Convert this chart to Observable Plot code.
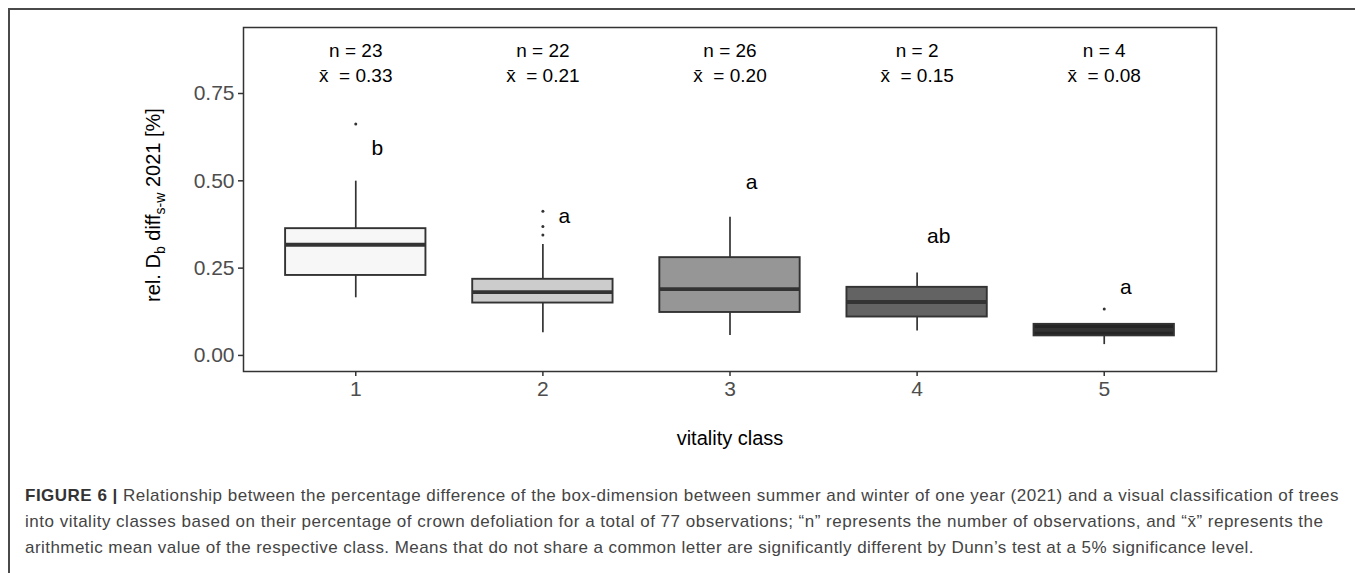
<!DOCTYPE html>
<html>
<head>
<meta charset="utf-8">
<script src="https://cdn.jsdelivr.net/npm/d3@7"></script>
<script src="https://cdn.jsdelivr.net/npm/@observablehq/plot@0.6"></script>
<style>
  html, body { margin: 0; padding: 0; background: #fff; }
  body { width: 1355px; height: 573px; position: relative; overflow: hidden; font-family: "Liberation Sans", Arial, sans-serif; }
  #frame { position: absolute; left: 8px; top: 8px; width: 1400px; height: 700px; border-top: 2px solid #4a4a4a; border-left: 2px solid #4a4a4a; }
  #chart { position: absolute; left: 0; top: 0; }
  #caption { position: absolute; left: 25px; top: 483px; font-size: 17px; line-height: 26px; color: #444; white-space: nowrap; }
  #caption b { color: #333; }
  [aria-label="y-axis tick label"] text, [aria-label="x-axis tick label"] text { fill: #4d4d4d; }
</style>
</head>
<body>
<div id="frame"></div>
<div id="chart"></div>
<div id="caption">
  <div class="ln" data-w="1314"><b>FIGURE 6 |</b> Relationship between the percentage difference of the box-dimension between summer and winter of one year (2021) and a visual classification of trees</div>
  <div class="ln" data-w="1299">into vitality classes based on their percentage of crown defoliation for a total of 77 observations; “n” represents the number of observations, and “x̄” represents the</div>
  <div class="ln" data-w="1229">arithmetic mean value of the respective class. Means that do not share a common letter are significantly different by Dunn’s test at a 5% significance level.</div>
</div>
<script>
// ---- data ----
const classes = [1, 2, 3, 4, 5];
const lowerWhisker = [0.165, 0.065, 0.057, 0.070, 0.031];
const q1 = [0.229, 0.150, 0.123, 0.110, 0.056];
const median = [0.317, 0.181, 0.190, 0.153, 0.073];
const q3 = [0.363, 0.218, 0.280, 0.195, 0.089];
const upperWhisker = [0.499, 0.318, 0.396, 0.236, 0.089];
const outlierClass = [1, 2, 2, 2, 5];
const outlierValue = [0.663, 0.345, 0.369, 0.413, 0.133];
const nObs = [23, 22, 26, 2, 4];
const meanLabels = ["0.33", "0.21", "0.20", "0.15", "0.08"];
const letters = ["b", "a", "a", "ab", "a"];
const letterY = [0.592, 0.398, 0.495, 0.341, 0.195];
const fills = ["#f7f7f7", "#cccccc", "#969696", "#636363", "#252525"];
const yTicks = [0, 0.25, 0.5, 0.75];

const boxes = classes.map((c, i) => ({
  c, lo: lowerWhisker[i], q1: q1[i], med: median[i], q3: q3[i], hi: upperWhisker[i],
  fill: fills[i], n: nObs[i], mean: meanLabels[i], letter: letters[i], ly: letterY[i]
}));
const outliers = outlierClass.map((c, i) => ({c, v: outlierValue[i]}));
const half = 0.375;

const plot = Plot.plot({
  width: 1355,
  height: 470,
  marginLeft: 243,
  marginRight: 139,
  marginTop: 27,
  marginBottom: 99,
  style: {fontFamily: "'Liberation Sans', Arial, sans-serif", color: "#333", background: "transparent"},
  x: {domain: [0.4, 5.6], label: null},
  y: {domain: [-0.046, 0.939], label: null},
  marks: [
    Plot.ruleX(boxes, {x: "c", y1: "lo", y2: "q1", stroke: "#333", strokeWidth: 1.7}),
    Plot.ruleX(boxes, {x: "c", y1: "q3", y2: "hi", stroke: "#333", strokeWidth: 1.7}),
    Plot.rect(boxes, {x1: d => d.c - half, x2: d => d.c + half, y1: "q1", y2: "q3", fill: "fill", stroke: "#333", strokeWidth: 1.9}),
    Plot.ruleY(boxes, {y: "med", x1: d => d.c - half, x2: d => d.c + half, stroke: "#333", strokeWidth: 3.8}),
    Plot.dot(outliers, {x: "c", y: "v", r: 1.5, fill: "#333", stroke: null}),
    Plot.text(boxes, {x: d => d.c + 0.115, y: "ly", text: "letter", fontSize: 21, fill: "#000"}),
    Plot.text(boxes, {x: "c", frameAnchor: "top", dy: 16, text: d => "n = " + d.n, fontSize: 19, fill: "#000"}),
    Plot.text(boxes, {x: "c", frameAnchor: "top", dy: 41, text: d => "x\u0304\u00a0 = " + d.mean, fontSize: 19, fill: "#000"}),
    Plot.text(["vitality class"], {frameAnchor: "bottom", dy: 73, text: d => d, fontSize: 20, fill: "#000"}),
    Plot.frame({stroke: "#333", strokeWidth: 1.5}),
    Plot.axisY({ticks: yTicks, tickFormat: d3.format(".2f"), tickSize: 5, tickPadding: 4, fontSize: 21, label: null, stroke: "#333", strokeWidth: 1.5}),
    Plot.axisX({ticks: classes, tickFormat: d => String(d), tickSize: 5, tickPadding: 5, fontSize: 21, label: null, stroke: "#333", strokeWidth: 1.5})
  ]
});
document.getElementById("chart").appendChild(plot);

// y-axis title with subscripts
const svg = d3.select(plot);
const yl = svg.append("text")
  .attr("transform", "translate(160,205) rotate(-90)")
  .attr("text-anchor", "middle")
  .attr("font-size", 20)
  .attr("fill", "#000");
yl.append("tspan").text("rel. D");
yl.append("tspan").attr("font-size", 14).attr("dy", 5).text("b");
yl.append("tspan").attr("dy", -5).text(" diff");
yl.append("tspan").attr("font-size", 14).attr("dy", 5).text("s-w");
yl.append("tspan").attr("dy", -5).text(" 2021 [%]");

// fit caption lines to their measured widths
document.querySelectorAll("#caption .ln").forEach(el => {
  const target = +el.dataset.w;
  const span = document.createElement("span");
  span.innerHTML = el.innerHTML;
  el.innerHTML = "";
  el.appendChild(span);
  const w = span.getBoundingClientRect().width;
  const chars = span.textContent.length;
  el.style.letterSpacing = ((target - w) / chars) + "px";
});
</script>
</body>
</html>
